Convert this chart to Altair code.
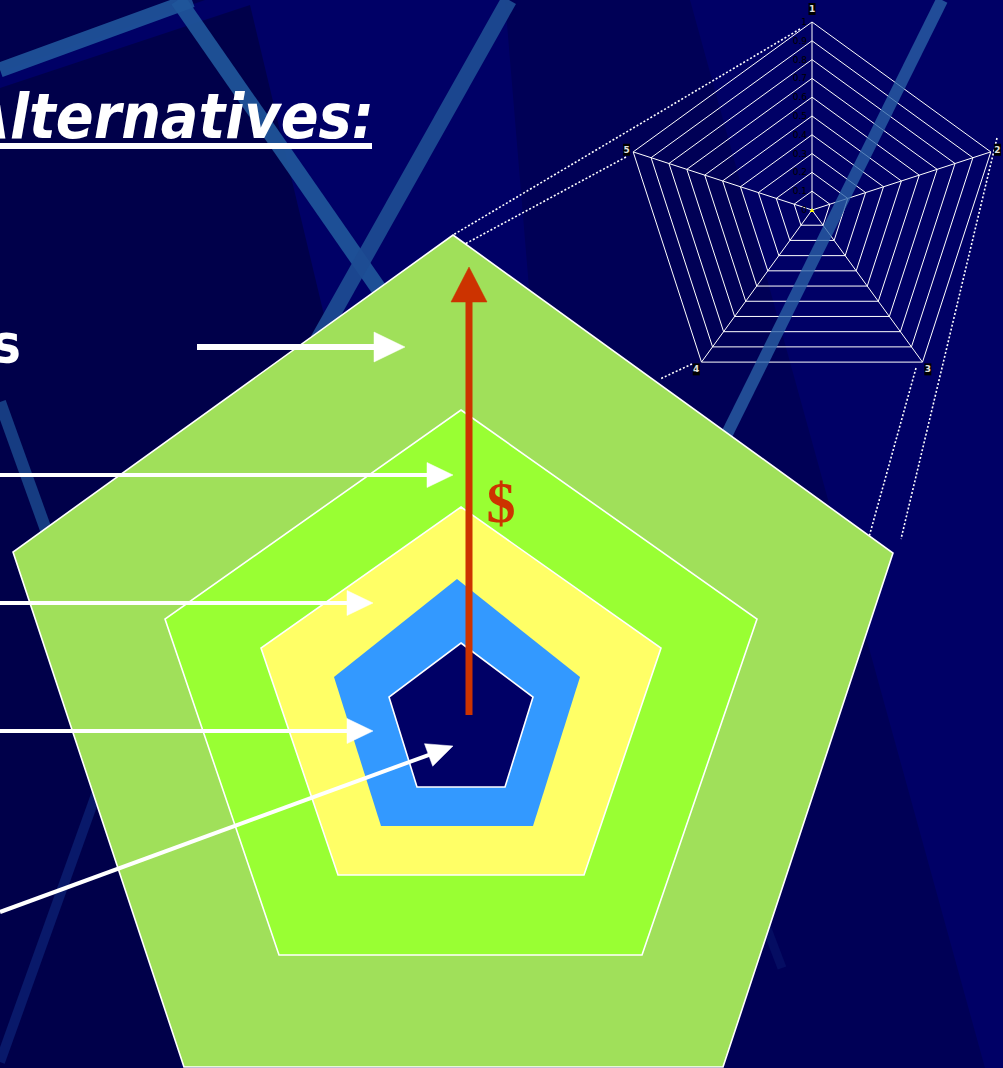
import math
import altair as alt
import pandas as pd

W, H = 1003, 1068

# ---------------- data ----------------
# background shading regions (vertex lists)
bg_names = ["corner", "dark_left", "dark_mid"]
bg_xs = [[0, 205, 0], [0, 250, 330, 350, 180, 0], [505, 690, 985, 600, 530]]
bg_ys = [[0, 0, 72], [88, 5, 340, 480, 1068, 1068], [0, 0, 1068, 1068, 300]]
bg_colors = ["#00004E", "#00004A", "#000056"]

# light ribbons across the background (centre lines)
ribbon_x1 = [0, 178, 509, 942, 0, 112, 758]
ribbon_y1 = [70, 0, 0, 0, 402, 750, 905]
ribbon_x2 = [192, 390, 318, 719, 55, 0, 782]
ribbon_y2 = [0, 305, 340, 450, 555, 1062, 968]
ribbon_w = [15, 16, 16, 12, 12, 10, 9]
ribbon_colors = ["#20549A", "#20569A", "#1D4C92", "#2A62A6", "#1A468C", "#0B1D70", "#08166A"]
ribbon_opacity = [0.92, 0.92, 0.92, 0.78, 0.85, 0.85, 0.6]

# nested pentagons, outer to inner
penta_names = ["outer", "second", "third", "fourth", "core"]
penta_xs = [[453, 893, 723, 184, 13], [461, 757, 642, 279, 165], [461, 661, 584, 338, 261],
            [457, 580, 533, 381, 334], [461, 533, 505, 417, 389]]
penta_ys = [[235, 553, 1067, 1067, 552], [410, 619, 955, 955, 619], [507, 648, 875, 875, 648],
            [579, 677, 826, 826, 677], [643, 697, 787, 787, 697]]
penta_fill = ["#A0E05A", "#99FF33", "#FFFF66", "#3399FF", "#000066"]
penta_stroke_w = [1.6, 1.6, 1.6, 0, 1.6]

# small radar chart
radar_cx, radar_cy, radar_r = 812, 210, 188
radar_levels = [0.1, 0.2, 0.3, 0.4, 0.5, 0.6, 0.7, 0.8, 0.9, 1.0]
radar_axes = ["1", "2", "3", "4", "5"]
radar_label_r = [201, 195, 197, 197, 195]
radar_tick_labels = ["0", "0.1", "0.2", "0.3", "0.4", "0.5", "0.6", "0.7", "0.8", "0.9", "1"]
radar_values = [0, 0, 0, 0, 0]

# dotted projection lines
dot_x1 = [800, 626, 692, 916, 997]
dot_y1 = [29, 157, 364, 368, 138]
dot_x2 = [453, 452, 660, 869, 901]
dot_y2 = [235, 251, 379, 537, 539]

# white arrows
arrow_x1 = [197, 0, 0, 0, 0]
arrow_y1 = [347, 475, 603, 731, 912]
arrow_tip_x = [405, 453, 373, 373, 453]
arrow_tip_y = [347, 475, 603, 731, 746]
arrow_head_len = [31, 26, 26, 26, 26]
arrow_head_half = [15, 12.5, 12.5, 12.5, 12]
arrow_w = [6, 4, 4, 4, 4]

# red arrow
red_x1, red_y1, red_tip_x, red_tip_y = 469, 715, 469, 267
red_head_len, red_head_half, red_w = 35, 18, 7

# texts
title_text = "Alternatives:"
side_text = "s"
dollar_text = "$"

# ---------------- helpers ----------------
xs = alt.Scale(domain=[0, W], nice=False, zero=False)
ys = alt.Scale(domain=[H, 0], nice=False, zero=False)


def X(f="x"):
    return alt.X(f + ":Q", scale=xs, axis=None)


def Y(f="y"):
    return alt.Y(f + ":Q", scale=ys, axis=None)


def poly_rows(pid, px, py, **extra):
    return [dict(id=pid, k=i, x=a, y=b, **extra) for i, (a, b) in enumerate(zip(px, py))]


def seg_rows(pid, x1, y1, x2, y2, **extra):
    return [dict(id=pid, k=0, x=x1, y=y1, **extra), dict(id=pid, k=1, x=x2, y=y2, **extra)]


def head(x1, y1, tx, ty, L, h):
    d = math.hypot(tx - x1, ty - y1)
    ux, uy = (tx - x1) / d, (ty - y1) / d
    bx, by = tx - L * ux, ty - L * uy
    nx, ny = -uy, ux
    return [tx, bx + h * nx, bx - h * nx], [ty, by + h * ny, by - h * ny], (bx + 2 * ux, by + 2 * uy)


layers = []

# background regions
rows = []
for n, px, py, c in zip(bg_names, bg_xs, bg_ys, bg_colors):
    rows += poly_rows(n, px, py, fill=c)
layers.append(
    alt.Chart(pd.DataFrame(rows)).mark_line(interpolate="linear-closed", strokeWidth=0, strokeOpacity=0)
    .encode(x=X(), y=Y(), detail="id:N", order="k:Q", fill=alt.Fill("fill:N", scale=None))
)

# radar rings and spokes
ang = [math.pi / 2 - i * 2 * math.pi / 5 for i in range(5)]
rows = []
for lv in radar_levels:
    px = [radar_cx + radar_r * lv * math.cos(a) for a in ang]
    py = [radar_cy - radar_r * lv * math.sin(a) for a in ang]
    rows += poly_rows("ring%.1f" % lv, px, py)
layers.append(
    alt.Chart(pd.DataFrame(rows)).mark_line(interpolate="linear-closed", color="white", strokeWidth=1)
    .encode(x=X(), y=Y(), detail="id:N", order="k:Q")
)
rows = []
for i, a in enumerate(ang):
    rows += seg_rows("sp%d" % i, radar_cx, radar_cy,
                     radar_cx + radar_r * math.cos(a), radar_cy - radar_r * math.sin(a))
layers.append(
    alt.Chart(pd.DataFrame(rows)).mark_line(color="white", strokeWidth=1)
    .encode(x=X(), y=Y(), detail="id:N", order="k:Q")
)

# ribbons
rows = []
for i in range(len(ribbon_x1)):
    rows += seg_rows("r%d" % i, ribbon_x1[i], ribbon_y1[i], ribbon_x2[i], ribbon_y2[i],
                     color=ribbon_colors[i], w=ribbon_w[i], op=ribbon_opacity[i])
layers.append(
    alt.Chart(pd.DataFrame(rows)).mark_line(strokeCap="butt")
    .encode(x=X(), y=Y(), detail="id:N", order="k:Q",
            stroke=alt.Stroke("color:N", scale=None),
            strokeWidth=alt.StrokeWidth("w:Q", scale=None),
            opacity=alt.Opacity("op:Q", scale=None))
)

# dotted lines
rows = []
for i in range(len(dot_x1)):
    rows += seg_rows("d%d" % i, dot_x1[i], dot_y1[i], dot_x2[i], dot_y2[i])
layers.append(
    alt.Chart(pd.DataFrame(rows)).mark_line(color="white", strokeWidth=1.6, strokeDash=[2, 2])
    .encode(x=X(), y=Y(), detail="id:N", order="k:Q")
)

# pentagons
for n, px, py, f, sw in zip(penta_names, penta_xs, penta_ys, penta_fill, penta_stroke_w):
    layers.append(
        alt.Chart(pd.DataFrame(poly_rows(n, px, py))).mark_line(
            interpolate="linear-closed", fill=f, stroke="white" if sw > 0 else f,
            strokeWidth=sw if sw > 0 else 0.01, strokeJoin="miter")
        .encode(x=X(), y=Y(), detail="id:N", order="k:Q")
    )

# white arrows
shaft_rows, head_rows = [], []
for i in range(len(arrow_x1)):
    hx, hy, (bx, by) = head(arrow_x1[i], arrow_y1[i], arrow_tip_x[i], arrow_tip_y[i],
                            arrow_head_len[i], arrow_head_half[i])
    shaft_rows += seg_rows("a%d" % i, arrow_x1[i], arrow_y1[i], bx, by, w=arrow_w[i])
    head_rows += poly_rows("h%d" % i, hx, hy)
layers.append(
    alt.Chart(pd.DataFrame(shaft_rows)).mark_line(color="white", strokeCap="butt")
    .encode(x=X(), y=Y(), detail="id:N", order="k:Q", strokeWidth=alt.StrokeWidth("w:Q", scale=None))
)
layers.append(
    alt.Chart(pd.DataFrame(head_rows)).mark_line(interpolate="linear-closed", fill="white",
                                                 color="white", strokeWidth=0.5)
    .encode(x=X(), y=Y(), detail="id:N", order="k:Q")
)

# red arrow
hx, hy, (bx, by) = head(red_x1, red_y1, red_tip_x, red_tip_y, red_head_len, red_head_half)
layers.append(
    alt.Chart(pd.DataFrame(seg_rows("red", red_x1, red_y1, bx, by))).mark_line(
        color="#CC3300", strokeWidth=red_w, strokeCap="butt")
    .encode(x=X(), y=Y(), detail="id:N", order="k:Q")
)
layers.append(
    alt.Chart(pd.DataFrame(poly_rows("redhead", hx, hy))).mark_line(
        interpolate="linear-closed", fill="#CC3300", color="#CC3300", strokeWidth=0.5)
    .encode(x=X(), y=Y(), detail="id:N", order="k:Q")
)

# radar tick labels (dark text on the top spoke)
tick_df = pd.DataFrame({"t": radar_tick_labels,
                        "x": [radar_cx - 5] * len(radar_tick_labels),
                        "y": [radar_cy - radar_r * i / 10 for i in range(len(radar_tick_labels))]})
layers.append(
    alt.Chart(tick_df).mark_text(align="right", baseline="middle", fontSize=9, color="#000000",
                                 font="DejaVu Sans")
    .encode(x=X(), y=Y(), text="t:N")
)

# radar axis labels with black boxes
lab = pd.DataFrame({
    "t": radar_axes,
    "x": [radar_cx + r * math.cos(a) for r, a in zip(radar_label_r, ang)],
    "y": [radar_cy - r * math.sin(a) for r, a in zip(radar_label_r, ang)],
})
lab["x0"], lab["x1"] = lab["x"] - 3.5, lab["x"] + 3.5
lab["y0"], lab["y1"] = lab["y"] - 6, lab["y"] + 6
layers.append(
    alt.Chart(lab).mark_rect(color="black").encode(x=X("x0"), x2="x1", y=Y("y0"), y2="y1")
)
layers.append(
    alt.Chart(lab).mark_text(align="center", baseline="middle", fontSize=9, fontWeight="bold",
                             color="#E0E0E0", font="DejaVu Sans")
    .encode(x=X(), y=Y(), text="t:N")
)

# radar data point (value 0 at centre)
pt = pd.DataFrame({"x": [radar_cx + v for v in radar_values[:1]], "y": [radar_cy]})
layers.append(
    alt.Chart(pt).mark_point(shape="triangle-up", filled=True, color="#FFFF00", size=22, opacity=1)
    .encode(x=X(), y=Y())
)

# title + underline
layers.append(
    alt.Chart(pd.DataFrame({"t": [title_text], "x": [374], "y": [138]})).mark_text(
        align="right", baseline="alphabetic", fontSize=62, fontWeight="bold", fontStyle="italic",
        font="DejaVu Sans Condensed, DejaVu Sans", color="white")
    .encode(x=X(), y=Y(), text="t:N")
)
layers.append(
    alt.Chart(pd.DataFrame(seg_rows("ul", 0, 146, 372, 146))).mark_line(
        color="white", strokeWidth=6, strokeCap="butt")
    .encode(x=X(), y=Y(), detail="id:N", order="k:Q")
)

# side label fragment
layers.append(
    alt.Chart(pd.DataFrame({"t": [side_text], "x": [21], "y": [362]})).mark_text(
        align="right", baseline="alphabetic", fontSize=53, fontWeight="bold",
        font="DejaVu Sans Condensed, DejaVu Sans", color="white")
    .encode(x=X(), y=Y(), text="t:N")
)

# dollar sign
layers.append(
    alt.Chart(pd.DataFrame({"t": [dollar_text], "x": [501], "y": [522]})).mark_text(
        align="center", baseline="alphabetic", fontSize=58, fontWeight="bold",
        font="Liberation Serif", color="#CC3300")
    .encode(x=X(), y=Y(), text="t:N")
)

chart = alt.layer(*layers).properties(
    width=W, height=H, background="#000066", padding=0, autosize="none"
).configure_view(stroke=None)

chart.save("out.html", embed_options={"renderer": "svg", "actions": False})
